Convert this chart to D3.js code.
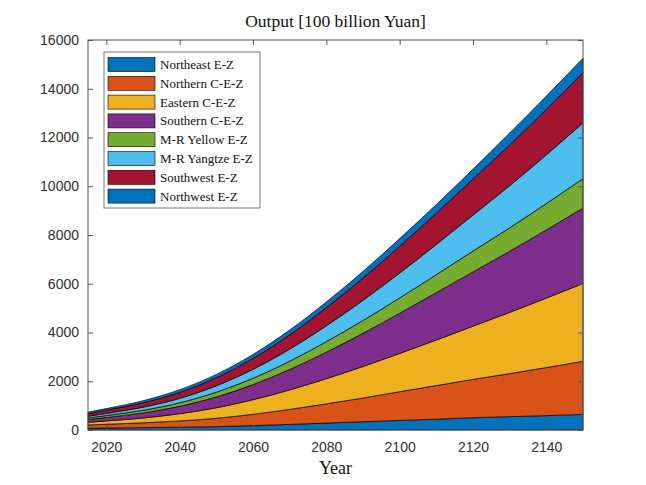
<!DOCTYPE html>
<html>
<head>
<meta charset="utf-8">
<script src="https://cdn.jsdelivr.net/npm/d3@7"></script>
<style>
  body { margin: 0; background: #fff; }
  .tick text { font-family: "Liberation Sans", Arial, sans-serif; font-size: 14px; fill: #303030; }
  .tick line { stroke: #555; }
</style>
</head>
<body>
<svg id="chart"></svg>
<script>
const WIDTH = 646;
const HEIGHT = 485;
const MARGINS = {top: 40, bottom: 55, left: 88, right: 63};

// years the values were read at
const years = [2015, 2020, 2030, 2040, 2050, 2060, 2070, 2080, 2090, 2100, 2110, 2120, 2130, 2140, 2150];

// output per zone [100 billion Yuan]
const northeast = [73, 82, 96, 116, 137, 180, 230, 284, 338, 393, 444, 503, 548, 589, 641];
const northernCE = [131, 154, 198, 256, 342, 465, 615, 788, 975, 1178, 1378, 1573, 1766, 1973, 2181];
const easternCE = [110, 136, 198, 297, 433, 598, 800, 1034, 1294, 1570, 1869, 2183, 2509, 2850, 3187];
const southernCE = [110, 141, 210, 305, 445, 620, 836, 1087, 1359, 1649, 1943, 2226, 2509, 2795, 3096];
const yellowMR = [66, 79, 106, 142, 194, 260, 340, 431, 527, 628, 740, 856, 962, 1082, 1205];
const yangtzeMR = [73, 90, 127, 182, 262, 366, 496, 651, 826, 1021, 1240, 1477, 1730, 2000, 2288];
const southwest = [110, 132, 178, 243, 331, 446, 586, 746, 917, 1099, 1286, 1477, 1669, 1863, 2059];
const northwest = [58, 66, 88, 111, 137, 164, 197, 231, 267, 314, 352, 407, 487, 548, 595];

const zoneNames = ['Northeast E-Z', 'Northern C-E-Z', 'Eastern C-E-Z', 'Southern C-E-Z',
                   'M-R Yellow E-Z', 'M-R Yangtze E-Z', 'Southwest E-Z', 'Northwest E-Z'];
const zoneValues = [northeast, northernCE, easternCE, southernCE, yellowMR, yangtzeMR, southwest, northwest];
const zoneColors = ['#0072BD', '#D95319', '#EDB120', '#7E2F8E', '#77AC30', '#4DBEEE', '#A2142F', '#0072BD'];

const xTicks = [2020, 2040, 2060, 2080, 2100, 2120, 2140];
const yTicks = [0, 2000, 4000, 6000, 8000, 10000, 12000, 14000, 16000];

let svg = d3.select('#chart')
    .attr('width', WIDTH)
    .attr('height', HEIGHT);

const plotW = WIDTH - MARGINS.left - MARGINS.right;
const plotH = HEIGHT - MARGINS.top - MARGINS.bottom;

const x = d3.scaleLinear().domain([2015, 2150]).range([MARGINS.left, MARGINS.left + plotW]);
const y = d3.scaleLinear().domain([0, 16000]).range([MARGINS.top + plotH, MARGINS.top]);

// build rows for the stack
let rows = years.map((yr, i) => {
    let r = {year: yr};
    zoneNames.forEach((n, k) => { r[n] = zoneValues[k][i]; });
    return r;
});

const stack = d3.stack().keys(zoneNames);
const series = stack(rows);

const area = d3.area()
    .x(d => x(d.data.year))
    .y0(d => y(d[0]))
    .y1(d => y(d[1]))
    .curve(d3.curveMonotoneX);

svg.append('g')
    .selectAll('path')
    .data(series)
    .enter()
    .append('path')
    .attr('d', area)
    .style('fill', (d, i) => zoneColors[i])
    .style('stroke', '#000')
    .style('stroke-width', 0.7);

// axes, ticks pointing inward like matlab
svg.append('g')
    .attr('transform', `translate(0, ${MARGINS.top + plotH})`)
    .call(d3.axisBottom(x).tickValues(xTicks).tickFormat(d3.format('d')).tickSizeInner(-5).tickSizeOuter(0).tickPadding(12))
    .call(g => g.select('.domain').remove());

svg.append('g')
    .attr('transform', `translate(0, ${MARGINS.top})`)
    .call(d3.axisTop(x).tickValues(xTicks).tickFormat('').tickSizeInner(-5).tickSizeOuter(0))
    .call(g => g.select('.domain').remove());

svg.append('g')
    .attr('transform', `translate(${MARGINS.left}, 0)`)
    .call(d3.axisLeft(y).tickValues(yTicks).tickFormat(d3.format('d')).tickSizeInner(-5).tickSizeOuter(0).tickPadding(9))
    .call(g => g.select('.domain').remove());

svg.append('g')
    .attr('transform', `translate(${MARGINS.left + plotW}, 0)`)
    .call(d3.axisRight(y).tickValues(yTicks).tickFormat('').tickSizeInner(-5).tickSizeOuter(0))
    .call(g => g.select('.domain').remove());

// box
svg.append('rect')
    .attr('x', MARGINS.left)
    .attr('y', MARGINS.top)
    .attr('width', plotW)
    .attr('height', plotH)
    .style('fill', 'none')
    .style('stroke', '#555')
    .style('stroke-width', 1);

// title and label
svg.append('text')
    .attr('x', MARGINS.left + plotW / 2)
    .attr('y', 27)
    .style('text-anchor', 'middle')
    .style('font-family', '"Liberation Serif", "Times New Roman", serif')
    .style('font-size', '17.5px')
    .style('fill', '#111')
    .text('Output [100 billion Yuan]');

svg.append('text')
    .attr('x', MARGINS.left + plotW / 2)
    .attr('y', 474)
    .style('text-anchor', 'middle')
    .style('font-family', '"Liberation Serif", "Times New Roman", serif')
    .style('font-size', '18px')
    .style('fill', '#111')
    .text('Year');

// legend
let legend = svg.append('g').attr('transform', 'translate(104, 52)');
legend.append('rect')
    .attr('width', 156)
    .attr('height', 156)
    .style('fill', '#fff')
    .style('stroke', '#555')
    .style('stroke-width', 0.8);

let items = legend.selectAll('g.item')
    .data(zoneNames)
    .enter()
    .append('g')
    .attr('class', 'item')
    .attr('transform', (d, i) => `translate(0, ${12.5 + i * 18.8})`);

items.append('rect')
    .attr('x', 4)
    .attr('y', -7)
    .attr('width', 47)
    .attr('height', 14)
    .style('fill', (d, i) => zoneColors[i])
    .style('stroke', '#000')
    .style('stroke-width', 0.6);

items.append('text')
    .attr('x', 56)
    .attr('y', 4.5)
    .style('font-family', '"Liberation Serif", "Times New Roman", serif')
    .style('font-size', '13px')
    .style('fill', '#111')
    .text(d => d);
</script>
</body>
</html>
